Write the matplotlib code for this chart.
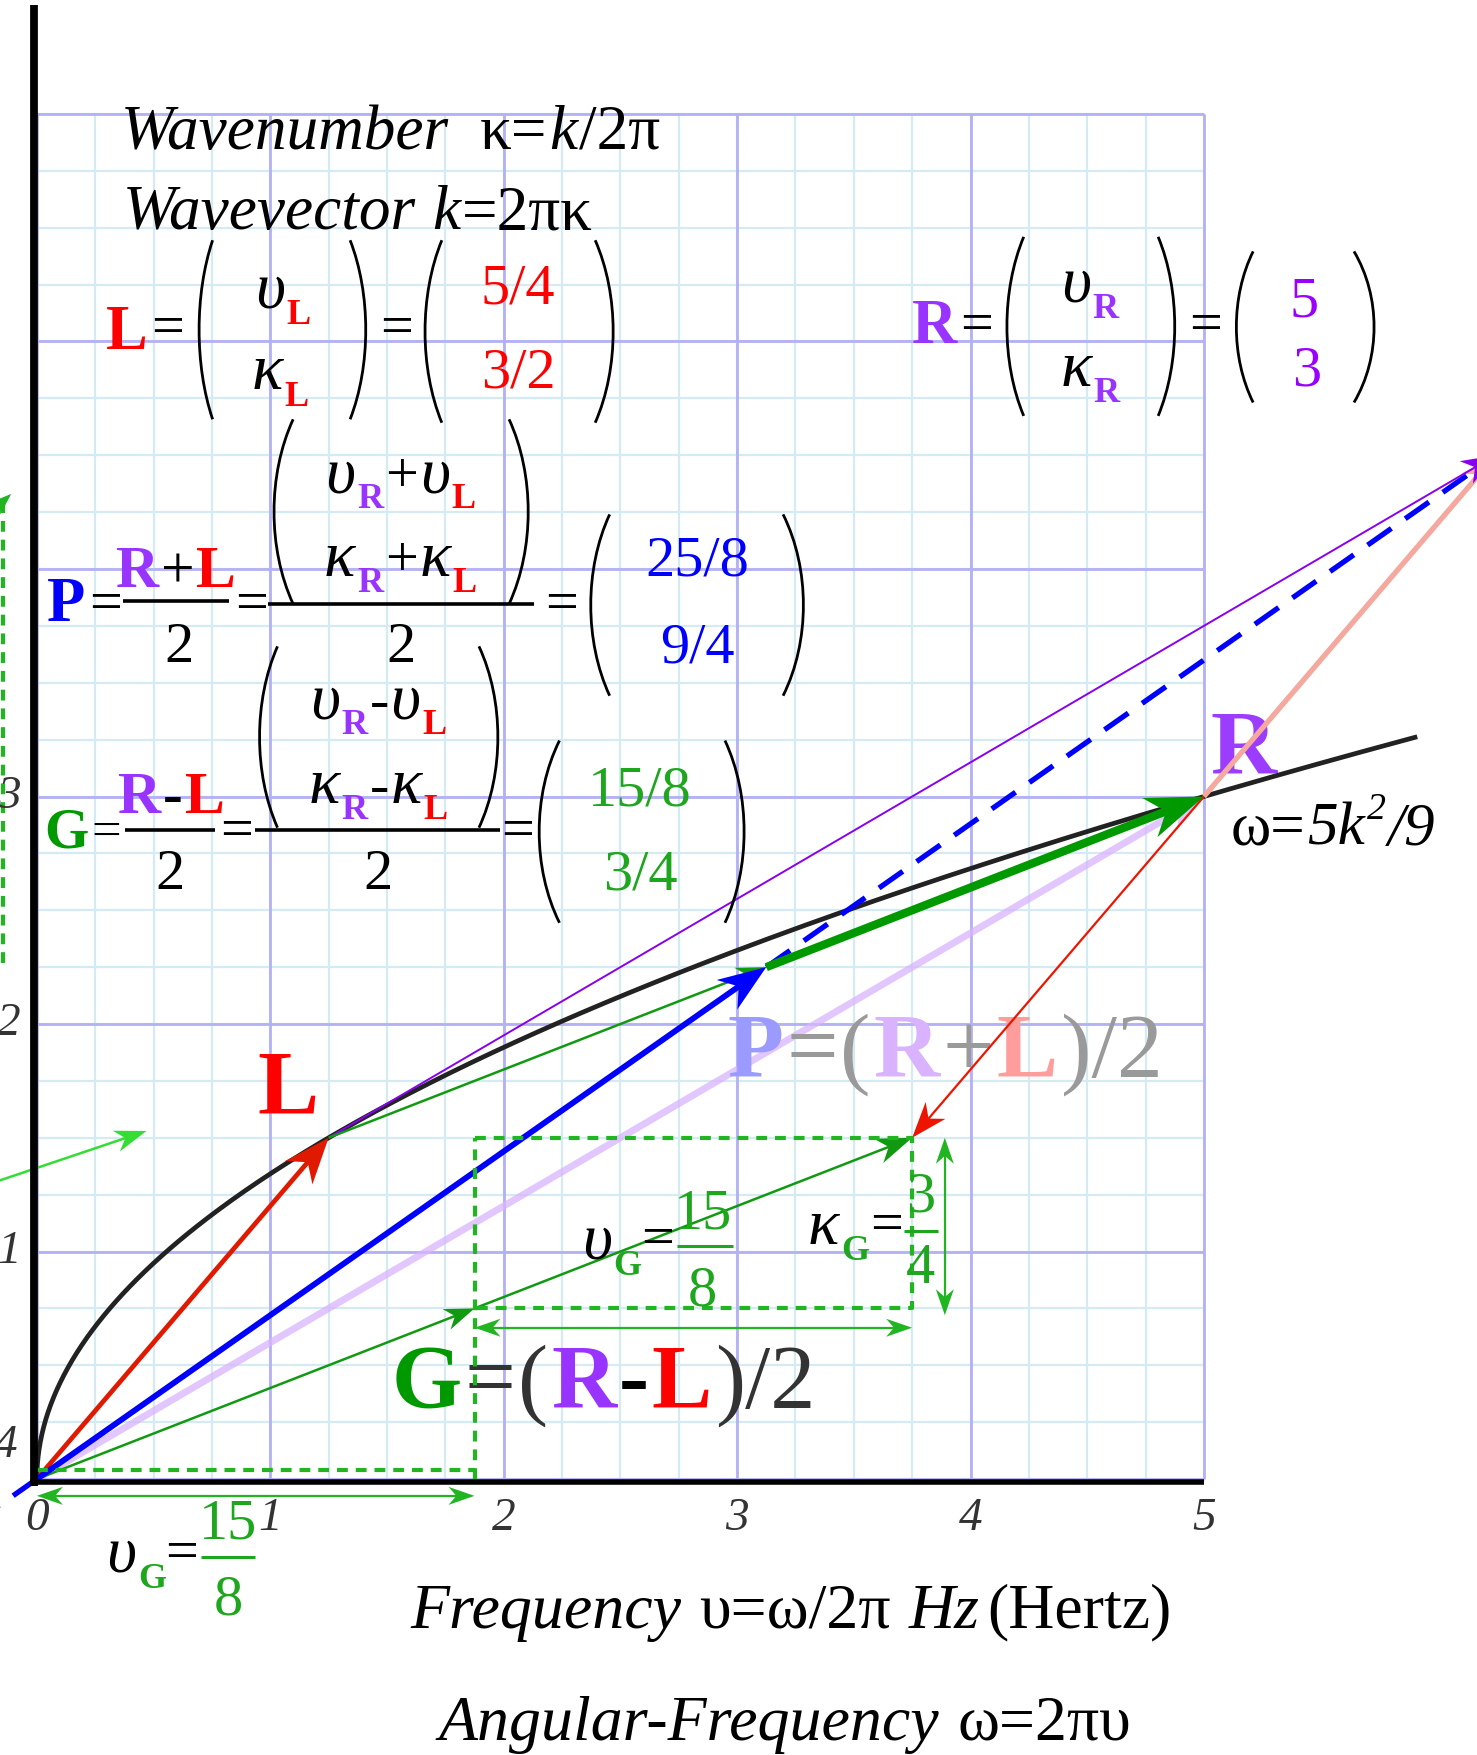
import numpy as np
import matplotlib
matplotlib.use("Agg")
import matplotlib.pyplot as plt
from matplotlib.patches import Polygon, PathPatch
from matplotlib.path import Path
from matplotlib.transforms import offset_copy

# Wave vectors written as (frequency υ, wavenumber κ)
L_vec = np.array([5 / 4, 3 / 2])
R_vec = np.array([5.0, 3.0])
P_vec = np.array([25 / 8, 9 / 4])      # (R+L)/2
G_vec = np.array([15 / 8, 3 / 4])      # (R-L)/2
sum_vec = np.array([25 / 4, 9 / 2])    # R+L
diff_vec = np.array([15 / 4, 3 / 2])   # R-L

# dispersion relation υ = 5κ²/9
curve_coef = 5 / 9
curve_kappa_max = 3.26

x_tick_values = [0, 1, 2, 3, 4, 5]
x_tick_labels = ["0", "1", "2", "3", "4", "5"]
y_tick_values = [1, 2, 3]
y_tick_labels = ["1", "2", "3"]

DPI = 100
fig = plt.figure(figsize=(14.77, 17.55), dpi=DPI)
ax = fig.add_axes([0, 0, 1, 1])
ax.set_xlim(-0.158, 6.170)
ax.set_ylim(-1.213, 6.501)
ax.axis("off")
renderer = fig.canvas.get_renderer()

FAM = "Liberation Serif"
STY = {"r": ("normal", "normal"), "i": ("italic", "normal"),
       "b": ("normal", "bold"), "bi": ("italic", "bold")}

RED = "#ff0000"
PUR = "#9933ff"
BLU = "#0000ff"
GRN = "#009900"
GRN2 = "#1ea61e"
BLK = "black"
DK = "#333333"

# ---------- grid ----------
ax.vlines(np.arange(0, 5.001, 0.25), 0, 6, color="#d5ebf4", lw=1.6, zorder=0)
ax.hlines(np.arange(0, 6.001, 0.25), 0, 5, color="#d5ebf4", lw=1.6, zorder=0)
ax.vlines(np.arange(0, 5.001, 1), 0, 6, color="#b4b0f6", lw=2.0, zorder=0.5)
ax.hlines(np.arange(0, 6.001, 1), 0, 5, color="#b4b0f6", lw=2.0, zorder=0.5)

# ---------- axes lines ----------
ax.plot([-0.014, -0.014], [-0.03, 6.48], color="black", lw=5.6, solid_capstyle="butt", zorder=6)
ax.plot([-0.03, 5.0], [-0.015, -0.015], color="black", lw=4.0, solid_capstyle="butt", zorder=6)


def seq(x, y, parts, size=42, ha="left", z=5, alpha=1.0, sp=0.03):
    """Draw a run of text pieces side by side on a common baseline."""
    items = []
    dx = 0.0
    first = True
    for p in parts:
        if p[0] is None:
            dx += p[1] * size * DPI / 72
            continue
        if not first:
            dx += sp * size * DPI / 72
        first = False
        s, c, st = p[:3]
        rel = p[3] if len(p) > 3 else 1.0
        rise = p[4] if len(p) > 4 else 0.0
        fs, fw = STY[st]
        t = ax.text(x, y, s, fontsize=size * rel, family=FAM, style=fs, weight=fw,
                    color=c, va="baseline", ha="left", zorder=z, alpha=alpha)
        items.append((t, dx, rise * size * DPI / 72))
        dx += t.get_window_extent(renderer).width
    shift = {"left": 0.0, "center": -dx / 2, "right": -dx}[ha]
    for t, ox, oy in items:
        t.set_transform(offset_copy(ax.transData, fig=fig, x=ox + shift, y=oy, units="dots"))


def paren(xm, xe, y0, y1, lw=2.0, color="black"):
    h = y1 - y0
    xc = xm + (xm - xe) / 3
    verts = [(xe, y1), (xc, y1 - 0.3 * h), (xc, y0 + 0.3 * h), (xe, y0)]
    codes = [Path.MOVETO, Path.CURVE4, Path.CURVE4, Path.CURVE4]
    ax.add_patch(PathPatch(Path(verts, codes), fill=False, lw=lw, ec=color, zorder=5))


def hline(x0, x1, y, lw=2.6, color="black"):
    ax.plot([x0, x1], [y, y], color=color, lw=lw, solid_capstyle="butt", zorder=5)


def _head(p_tip, d, color, hl, hw, notch, alpha, z):
    n = np.array([-d[1], d[0]])
    back = p_tip - d * hl * (1 - notch)
    poly = np.array([p_tip, p_tip - d * hl + n * hw / 2, back, p_tip - d * hl - n * hw / 2])
    ax.add_patch(Polygon(ax.transData.inverted().transform(poly), closed=True,
                         fc=color, ec="none", alpha=alpha, zorder=z))
    return back


def arrow(tail, tip, color, lw, hl=34, hw=26, notch=0.3, alpha=1.0, z=4,
          heads=(False, True)):
    T = ax.transData
    p0, p1 = T.transform(np.array([tail, tip], dtype=float))
    d = (p1 - p0) / np.hypot(*(p1 - p0))
    a, b = p0, p1
    if heads[1]:
        b = _head(p1, d, color, hl, hw, notch, alpha, z) + d * 1.0
    if heads[0]:
        a = _head(p0, -d, color, hl, hw, notch, alpha, z) - d * 1.0
    pa, pb = T.inverted().transform(np.array([a, b]))
    ax.plot([pa[0], pb[0]], [pa[1], pb[1]], color=color, lw=lw, alpha=alpha,
            zorder=z, solid_capstyle="butt")


# ---------- dispersion curve ----------
kap = np.linspace(0, curve_kappa_max, 300)
ax.plot(curve_coef * kap ** 2, kap, color="#222222", lw=3.4, zorder=3)

# ---------- vectors ----------
origin = np.array([0.0, 0.0])
arrow(origin, R_vec, "#d9b3ff", 5.0, hl=40, hw=30, alpha=0.75, z=2)
arrow(origin, G_vec, "#119a11", 1.8, hl=30, hw=22, z=3.5)
arrow(origin, L_vec, "#e01a00", 3.4, hl=46, hw=36, z=4)
arrow(origin, P_vec, BLU, 4.2, hl=48, hw=36, z=4.2)
# dashed extension of P toward R+L
ax.plot([P_vec[0], sum_vec[0]], [P_vec[1], sum_vec[1]], color=BLU, lw=3.8,
        dashes=(5.5, 3.2), zorder=3.6)
ax.plot([0, -0.07 * P_vec[0]], [0, -0.07 * P_vec[1]], color=BLU, lw=3.8,
        dashes=(5.5, 3.2), zorder=3.6)
arrow(L_vec, P_vec, "#119a11", 1.8, hl=30, hw=22, z=3.9)
arrow(P_vec, R_vec, "#009900", 6.0, hl=58, hw=42, z=4.1)
arrow(L_vec, sum_vec, "#8800ee", 1.4, hl=34, hw=26, z=3.7)
arrow(R_vec, sum_vec, "#f4a89e", 3.8, hl=36, hw=28, z=3.3)
arrow(R_vec, diff_vec, "#ee1500", 1.6, hl=36, hw=26, z=3.8)
arrow(G_vec, diff_vec, "#119a11", 1.8, hl=36, hw=26, z=3.8)
# partial vector entering at the left margin
arrow((-0.6, 1.16), (0.47, 1.53), "#33dd33", 1.8, hl=32, hw=22, z=3.8)

# ---------- dashed construction box for G ----------
gk = dict(color="#22b522", lw=3.0, dashes=(2.6, 1.9), zorder=4.5)
base_tr = offset_copy(ax.transData, fig=fig, x=0, y=9, units="dots")
ax.plot([0, G_vec[0]], [0, 0], transform=base_tr, **gk)
ax.plot([G_vec[0], G_vec[0]], [0, diff_vec[1]], **gk)
ax.plot([G_vec[0], diff_vec[0], diff_vec[0], G_vec[0]],
        [diff_vec[1], diff_vec[1], G_vec[1], G_vec[1]], **gk)
# left margin guide
ax.plot([-0.145, -0.145], [2.27, 4.32], **gk)
arrow((-0.25, 4.20), (-0.11, 4.33), "#22b522", 1.6, hl=22, hw=16, z=4.5)

# dimension arrows
arrow((G_vec[0], G_vec[1] - 0.085), (diff_vec[0], G_vec[1] - 0.085), "#22b522", 1.6,
      hl=26, hw=18, heads=(True, True), z=4.5)
arrow((diff_vec[0] + 0.14, diff_vec[1]), (diff_vec[0] + 0.14, G_vec[1] - 0.03), "#22b522", 1.6,
      hl=26, hw=18, heads=(True, True), z=4.5)
arrow((0.0, -0.074), (G_vec[0], -0.074), "#22b522", 1.6, hl=26, hw=18,
      heads=(True, True), z=4.5)

# ---------- tick labels ----------
for v, s in zip(x_tick_values, x_tick_labels):
    ax.text(v, -0.226, s, fontsize=34, family=FAM, style="italic", color=DK,
            ha="center", va="baseline", zorder=5)
for v, s in zip(y_tick_values, y_tick_labels):
    ax.text(-0.12, v, s, fontsize=34, family=FAM, style="italic", color=DK,
            ha="center", va="center", zorder=5)
ax.text(-0.135, 0.148, "4", fontsize=34, family=FAM, style="italic", color=DK,
        ha="center", va="center", zorder=5)

# ---------- headings ----------
seq(0.36, 5.848, [("Wavenumber", BLK, "i"), (None, 0.45), ("κ=", BLK, "r"),
                  ("k", BLK, "i"), ("/2π", BLK, "r")], size=45.5)
seq(0.369, 5.494, [("Wavevector", BLK, "i"), (None, 0.22), ("k", BLK, "i"),
                   ("=2πκ", BLK, "r")], size=45.5)

# ---------- L and R column vectors ----------
SUB = 0.62
seq(0.297, 4.968, [("L", RED, "b")], size=45)
seq(0.489, 4.99, [("=", BLK, "r")])
paren(0.695, 0.753, 4.658, 5.445)
seq(0.935, 5.15, [("υ", BLK, "i", 1.12), ("L", RED, "b", SUB, -0.28)])
seq(0.92, 4.79, [("κ", BLK, "i", 1.12), ("L", RED, "b", SUB, -0.28)])
paren(1.409, 1.342, 4.658, 5.445)
seq(1.472, 4.99, [("=", BLK, "r")])
paren(1.663, 1.735, 4.643, 5.445)
seq(2.061, 5.165, [("5/4", RED, "r")], ha="center")
seq(2.061, 4.796, [("3/2", RED, "r")], ha="center")
paren(2.469, 2.392, 4.643, 5.445)

seq(3.749, 4.993, [("R", PUR, "b")], size=45)
seq(3.955, 5.0, [("=", BLK, "r")])
paren(4.156, 4.228, 4.673, 5.46)
seq(4.386, 5.175, [("υ", BLK, "i", 1.12), ("R", PUR, "b", SUB, -0.28)])
seq(4.386, 4.806, [("κ", BLK, "i", 1.12), ("R", PUR, "b", SUB, -0.28)])
paren(4.875, 4.804, 4.673, 5.46)
seq(4.938, 5.0, [("=", BLK, "r")])
paren(5.139, 5.211, 4.732, 5.396)
seq(5.431, 5.11, [("5", "#9900ff", "r")], ha="center")
seq(5.441, 4.806, [("3", "#9900ff", "r")], ha="center")
paren(5.729, 5.643, 4.732, 5.396)

# ---------- P = (R+L)/2 ----------
seq(0.043, 3.773, [("P", BLU, "b")], size=45)
seq(0.225, 3.775, [("=", BLK, "r")])
seq(0.597, 3.92, [("R", PUR, "b"), ("+", BLK, "r"), ("L", RED, "b")], size=43, ha="center")
hline(0.369, 0.825, 3.861)
seq(0.609, 3.59, [("2", BLK, "r")], ha="center")
seq(0.849, 3.775, [("=", BLK, "r")])
paren(1.016, 1.098, 3.846, 4.658)
paren(2.105, 2.023, 3.846, 4.658)
seq(1.558, 4.338, [("υ", BLK, "i", 1.12), ("R", PUR, "b", SUB, -0.28), ("+", BLK, "r"),
                   ("υ", BLK, "i", 1.12), ("L", RED, "b", SUB, -0.28)], ha="center")
seq(1.558, 3.97, [("κ", BLK, "i", 1.12), ("R", PUR, "b", SUB, -0.28), ("+", BLK, "r"),
                  ("κ", BLK, "i", 1.12), ("L", RED, "b", SUB, -0.28)], ha="center")
hline(0.992, 2.128, 3.846)
seq(1.558, 3.59, [("2", BLK, "r")], ha="center")
seq(2.176, 3.775, [("=", BLK, "r")])
paren(2.373, 2.454, 3.443, 4.24)
paren(3.284, 3.197, 3.443, 4.24)
seq(2.828, 3.97, [("25/8", BLU, "r")], ha="center")
seq(2.828, 3.59, [("9/4", BLU, "r")], ha="center")

# ---------- G = (R-L)/2 ----------
seq(0.030, 2.774, [("G", GRN, "b")], size=41)
seq(0.232, 2.78, [("=", BLK, "r")], size=38)
seq(0.577, 2.927, [("R", PUR, "b"), ("-", BLK, "b"), ("L", RED, "b")], size=43, ha="center")
hline(0.378, 0.762, 2.853)
seq(0.570, 2.592, [("2", BLK, "r")], ha="center")
seq(0.786, 2.78, [("=", BLK, "r")])
paren(0.954, 1.031, 2.863, 3.66)
paren(1.975, 1.894, 2.863, 3.66)
seq(1.462, 3.345, [("υ", BLK, "i", 1.12), ("R", PUR, "b", SUB, -0.28), ("-", BLK, "r"),
                   ("υ", BLK, "i", 1.12), ("L", RED, "b", SUB, -0.28)], ha="center")
seq(1.462, 2.971, [("κ", BLK, "i", 1.12), ("R", PUR, "b", SUB, -0.28), ("-", BLK, "r"),
                   ("κ", BLK, "i", 1.12), ("L", RED, "b", SUB, -0.28)], ha="center")
hline(0.935, 1.985, 2.853)
seq(1.462, 2.592, [("2", BLK, "r")], ha="center")
seq(1.99, 2.78, [("=", BLK, "r")])
paren(2.152, 2.239, 2.445, 3.246)
paren(3.03, 2.948, 2.445, 3.246)
seq(2.584, 2.961, [("15/8", GRN2, "r")], ha="center")
seq(2.584, 2.592, [("3/4", GRN2, "r")], ha="center")

# ---------- point labels ----------
seq(0.944, 1.608, [("L", RED, "b")], size=66, z=2.5)
seq(5.029, 3.099, [("R", "#9b3cff", "b")], size=66, z=2.5)
seq(5.115, 2.789, [("ω=", BLK, "r"), ("5k", BLK, "i"), ("2", BLK, "i", 0.62, 0.42),
                   ("/9", BLK, "i")], size=44)
seq(2.958, 1.771, [("P", "#9a9aff", "b"), ("=", "#9a9a9a", "r"), ("(", "#9a9a9a", "r"),
                   ("R", "#d9b3ff", "b"), ("+", "#9a9a9a", "r"), ("L", "#ff9c9c", "b"),
                   (")/2", "#9a9a9a", "r")], size=66, z=2.5)
seq(1.52, 0.315, [("G", GRN, "b"), ("=", DK, "r"), ("(", DK, "r"), ("R", PUR, "b"),
                  ("-", BLK, "b"), ("L", RED, "b"), (")/2", DK, "r")], size=65, z=2.5)

# ---------- component labels for G ----------
seq(2.335, 0.969, [("υ", BLK, "i", 1.12), ("G", GRN2, "b", SUB, -0.28)])
seq(2.589, 0.985, [("=", BLK, "r")])
hline(2.742, 2.982, 1.023, lw=2.2, color=GRN2)
seq(2.852, 1.102, [("15", GRN2, "r")], ha="center")
seq(2.852, 0.762, [("8", GRN2, "r")], ha="center")

seq(3.303, 1.033, [("κ", BLK, "i", 1.12), ("G", GRN2, "b", SUB, -0.28)])
seq(3.571, 1.045, [("=", BLK, "r")])
hline(3.715, 3.859, 1.092, lw=2.2, color=GRN2)
seq(3.787, 1.176, [("3", GRN2, "r")], ha="center")
seq(3.787, 0.861, [("4", GRN2, "r")], ha="center")

seq(0.297, -0.408, [("υ", BLK, "i", 1.12), ("G", GRN2, "b", SUB, -0.28)])
seq(0.551, -0.395, [("=", BLK, "r")])
hline(0.705, 0.935, -0.344, lw=2.2, color=GRN2)
seq(0.82, -0.26, [("15", GRN2, "r")], ha="center")
seq(0.82, -0.595, [("8", GRN2, "r")], ha="center")

# ---------- axis titles ----------
seq(1.601, -0.654, [("Frequency", BLK, "i"), (None, 0.25), ("υ=ω/2π", BLK, "r"),
                    (None, 0.25), ("Hz", BLK, "i"), (None, 0.08), ("(Hertz)", BLK, "r")],
    size=46)
seq(1.721, -1.146, [("Angular-Frequency", BLK, "i"), (None, 0.25), ("ω=2πυ", BLK, "r")],
    size=46)

fig.savefig("out.png", dpi=DPI)
